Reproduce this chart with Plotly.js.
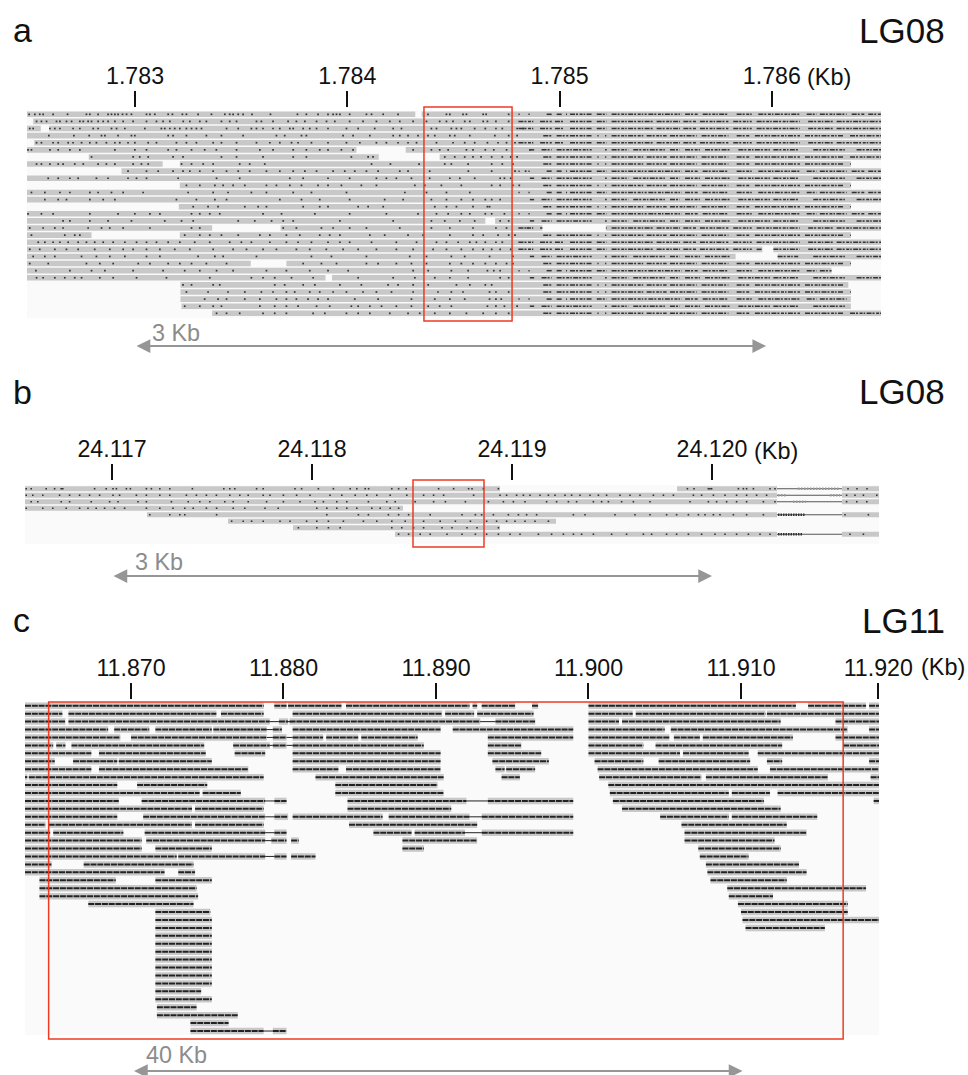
<!DOCTYPE html>
<html><head><meta charset="utf-8">
<script src="https://cdn.plot.ly/plotly-3.0.1.min.js"></script>
<style>html,body{margin:0;padding:0;background:#fff}</style></head>
<body><div id="chart" style="width:968px;height:1075px"></div>
<script>
// Panel a: LG08, positions are bp above aBase
const aBase = 1782000;
const aTickVals = [1783000,1784000,1785000,1786000];
const aTickText = ['1.783','1.784','1.785','1.786'];
const F = [[491,4514]];
const aReads = [[[491,2320],[2350,4514]],[[520,4514]],[[491,556],[595,4514]],F,[[525,4514]],[[491,2043],[2275,4514]],[[782,2148],[2435,4514]],[[491,1130],[1211,4372]],[[936,4514]],F,[[1211,4372]],F,F,[[1206,4372]],F,[[491,2650],[2696,4514]],[[491,1363],[1686,2919],[3218,4514]],[[491,795],[1211,4372]],F,[[491,3955],[4007,4514]],[[491,3829],[4027,4514]],[[491,1545],[1713,4372]],[[491,4281]],[[491,1897],[1928,4514]],[[1214,4360]],[[1214,4372]],[[1214,4372]],[[1219,4372]],[[1363,4514]]];
const aDots = [
[501,528,551,567,614,682,771,787,826,873,889,905,920,941,960,983,1054,1070,1093,1156,1176,1223,1242,1297,1360,1423,1446,1462,1486,1509,1551,1638,1765,1807,1862,1909,1933,1949,1965,2011,2090,2114,2169,2239,2380,2467,2483,2545,2561,2640,2654,2760],
[536,559,583,630,646,677,701,740,756,779,795,826,850,873,905,944,991,1054,1101,1132,1164,1227,1258,1305,1336,1407,1446,1478,1572,1595,1650,1721,1760,1800,1855,1902,1941,2011,2074,2137,2200,2247,2310,2373,2435,2467,2498,2553,2577,2640,2660,2700,2760],
[504,520,599,622,646,708,740,803,826,889,913,952,1046,1124,1140,1164,1187,1211,1242,1266,1289,1313,1431,1486,1548,1572,1603,1650,1682,1729,1745,1792,1823,1855,1909,1996,2051,2129,2216,2255,2396,2420,2490,2514,2537,2600,2650,2700,2730,2800,2830],
[594,712,784,842,858,920,983,999,1156,1179,1242,1336,1407,1509,1666,1705,1784,1807,1980,2027,2106,2216,2247,2286,2333,2380,2412,2483,2506,2577,2695,2760,2800],
[536,559,614,638,685,708,748,787,818,865,905,928,967,999,1062,1101,1195,1242,1289,1368,1407,1478,1572,1635,1682,1737,1768,1831,1909,1996,2059,2137,2184,2239,2286,2326,2420,2498,2553,2600,2660,2710,2750,2790],
[496,512,599,638,693,740,905,999,1054,1156,1195,1266,1328,1383,1478,1588,1650,1745,1807,1870,1909,1972,2027,2310,2396,2435,2475,2561,2592,2650,2690,2750,2860],
[795,991,1022,1062,1179,1226,1407,1478,1603,1745,1807,2019,2098,2121,2459,2506,2553,2592,2630,2680,2730,2770,2800],
[536,559,599,638,661,716,756,826,865,905,991,1030,1062,1219,1266,1321,1368,1493,1540,1611,2114,2203,2338,2459,2490,2569,2680,2730,2780],
[967,1054,1109,1179,1226,1258,1305,1368,1431,1486,1540,1619,1682,1745,1800,1855,1933,1988,2035,2090,2145,2247,2286,2388,2570,2680,2790,2840],
[591,638,693,732,818,873,967,1007,1054,1203,1384,1493,1729,1792,1909,2011,2137,2184,2231,2302,2388,2483,2530,2600,2720,2740,2770],
[1242,1305,1376,1415,1462,1517,1619,1666,1729,1784,1862,1909,1972,2066,2137,2318,2365,2443,2537,2680,2720,2780,2810],
[512,575,646,693,787,826,889,944,1038,1250,1368,1438,1548,1619,1745,1831,1996,2271,2373,2467,2577],
[575,638,677,787,850,905,1195,1289,1376,1431,1682,1784,1870,2011,2176,2263,2396,2467,2537,2592,2650,2680,2720],
[1274,1344,1391,1517,1580,1619,1792,1870,1909,2051,2098,2169,2412,2467,2514,2592,2660,2670],
[496,559,614,787,920,999,1070,1117,1266,1305,1352,1399,1603,1690,1847,2011,2184,2333,2420,2475,2537,2577,2650,2680,2740],
[661,693,787,873,983,1140,1219,1274,1486,1564,1643,1698,1745,1965,2216,2396,2459,2530,2600,2720,2760],
[504,567,622,661,779,842,881,944,1070,1266,1305,1698,1760,1878,1933,2011,2090,2247,2396,2483,2592,2700,2750,2850],
[512,669,716,740,1234,1305,1352,1407,1486,1588,1635,1713,1776,1870,1917,1965,2106,2176,2286,2357,2483,2592,2640,2710,2760,2790],
[544,575,614,646,685,732,771,810,850,897,952,1007,1054,1101,1156,1211,1281,1352,1446,1501,1548,1635,1713,1768,1831,1909,1965,2011,2114,2231,2326,2420,2467,2522,2577,2608,2650,2700,2730],
[504,551,622,677,732,810,881,944,991,1054,1117,1187,1258,1368,1462,1525,1603,1666,1760,1823,1901,1980,2051,2137,2231,2310,2404,2467,2537,2592,2640,2680,2720,2770],
[520,575,622,748,818,881,952,1054,1117,1297,1376,1415,1572,1831,1925,2090,2294,2373,2490,2553,2670,2780],
[504,591,771,834,897,1015,1070,1156,1211,1266,1336,1431,1580,1792,1878,1949,2090,2145,2231,2302,2373,2483,2537,2592,2650,2700,2750,2780],
[533,693,795,858,991,1132,1234,1305,1384,1462,1619,1713,1823,1909,2004,2310,2381,2490,2569,2660,2690,2720],
[536,567,622,669,716,748,834,897,1007,1148,1352,1548,1603,1658,1737,1839,2051,2216,2318,2412,2483,2569,2720,2760],
[1226,1266,1368,1399,1658,1705,1792,1847,1965,2066,2192,2239,2310,2381,2514,2577,2650,2680],
[1242,1344,1438,1517,1595,1650,1713,1752,1823,1870,1933,1996,2074,2137,2208,2310,2427,2490,2545,2670,2700,2760],
[1328,1391,1431,1517,1588,1666,1713,1760,1815,1862,1909,2035,2145,2302,2412,2483,2553,2670,2700,2725],
[1234,1305,1368,1407,1588,1658,1713,1768,1855,1917,2019,2051,2106,2161,2231,2302,2381,2435,2490,2660,2700,2740,2800],
[1384,1431,1493,1603,1658,1713,1839,1894,1996,2051,2106,2200,2286,2341,2412,2483,2561,2640,2700,2760]];
// Variant runs shared between groups of rows on the right of panel a
const aHapA = [[2806,2812],[2853,2859],[2939,2963],[2986,3010],[3030,3035],[3049,3151],[3175,3222],[3245,3410],[3418,3575],[3591,3653],[3674,3795],[3834,3905],[3936,4132],[4164,4211],[4226,4352],[4376,4438],[4454,4514]];
const aHapB = [[2923,2963],[2986,3041],[3049,3151],[3178,3184],[3214,3220],[3245,3394],[3410,3504],[3520,3646],[3669,3795],[3834,3897],[3920,4132],[4156,4336],[4368,4514]];
const aHapC = [[2806,2876],[2908,2963],[2978,3018],[3049,3151],[3175,3222],[3245,3441],[3457,3567],[3583,3646],[3661,3795],[3818,3905],[3928,4132],[4171,4289],[4305,4514]];
const aHapD = [[2860,2880],[2915,2963],[2986,3151],[3214,3222],[3245,3324],[3347,3496],[3520,3567],[3591,3661],[3685,3803],[3842,3991],[4007,4124],[4195,4344],[4399,4514]];
const aHaps = [aHapA,aHapC,aHapC,aHapB,aHapC,aHapD,aHapB,aHapB,aHapA,aHapD,aHapB,aHapA,aHapD,aHapB,aHapA,aHapD,aHapC,aHapB,aHapC,aHapC,aHapD,aHapB,aHapA,aHapD,aHapB,aHapB,aHapA,aHapD,aHapB];

// Panel b: LG08, positions are bp above bBase
const bBase = 24116000;
const bTickVals = [24117000,24118000,24119000,24120000];
const bTickText = ['24.117','24.118','24.119','24.120'];
const bReads = [[[565,2940],[3825,4325],[4650,4835]],[[565,4325],[4650,4835]],[[565,4325],[4650,4835]],[[565,2455]],[[1175,4325],[4650,4835]],[[1580,3220]],[[1905,2940]],[[2415,4325],[4650,4835]]];
const bSplice = [[[4325,4650]],[[4325,4650]],[[4325,4650]],[],[[4325,4650]],[],[],[[4325,4650]]];
const bDots = [
[571,596,671,713,746,754,913,971,1005,1022,1072,1092,1172,1197,1239,1289,1402,1559,1589,1614,1723,1756,1915,1948,2032,2107,2191,2224,2266,2283,2399,2433,2471,2633,2708,2783,2800,2857,2932,3877,3910,3982,3990,3998,4132,4157,4173,4207,4290,4315,4680,4725,4775],
[571,604,654,738,788,838,888,938,1005,1038,1122,1172,1239,1289,1372,1422,1472,1522,1589,1639,1681,1756,1790,1857,1923,1990,2090,2149,2216,2274,2324,2391,2474,2558,2608,2658,2808,2940,2973,3023,3057,3090,3140,3182,3215,3265,3298,3340,3390,3432,3473,3540,3590,3640,3707,3757,3807,3907,3948,4007,4065,4123,4173,4223,4273,4673,4715,4757,4824],
[596,629,746,788,896,988,1030,1130,1172,1297,1381,1439,1489,1564,1606,1681,1773,1857,1940,2015,2057,2124,2174,2282,2374,2416,2516,2608,2667,2767,2882,2957,3007,3065,3173,3223,3282,3323,3407,3448,3482,3548,3607,3690,3890,3982,4023,4073,4123,4173,4257,4315,4673,4724,4774],
[571,654,704,771,838,880,921,963,1013,1063,1172,1239,1305,1364,1406,1472,1523,1606,1664,1765,1831,2024,2074,2124,2174,2224,2299,2341,2391,2433],
[1189,1289,1339,1364,1523,2074,2232,2282,2382,2433,2483,2591,2750,2817,2848,2907,2982,3032,3073,3123,3307,3365,3515,3615,3690,3773,3823,3882,3932,3965,4007,4040,4107,4173,4257,4665,4782],
[1598,1656,1698,1756,1840,1890,1973,2024,2082,2157,2257,2324,2399,2466,2558,2641,2717,2792,2873,2923,2973,3015,3065,3115,3182],
[1932,2024,2082,2141,2399,2449,2508,2558,2650,2700,2775,2825,2932],
[2433,2483,2541,2591,2675,2750,2817,2873,2932,2990,3040,3132,3198,3257,3307,3348,3407,3498,3573,3657,3698,3773,3823,3882,3948,4015,4065,4123,4182,4240,4290,4690,4757]];
// Dense variant clusters near the intron in panel b, dark rows and pale rows
const bDarkRuns = [[],[],[],[],[[4330,4465]],[],[],[[4330,4455]]];
const bPaleRuns = [[[4430,4640]],[[4330,4370],[4590,4640]],[[4405,4470]],[],[],[],[],[]];

// Panel c: LG11, positions are kb above 11000
const cTickVals = [870,880,890,900,910,919];
const cTickText = ['11.870','11.880','11.890','11.900','11.910','11.920'];
const cL = 863.05, cR = 919.05;
const cReads = [
[[cL,878.7],[879.4,880.2],[880.3,883.8],[884.1,892.2],[892.4,892.7],[893,895.2],[896.3,896.7],[900,913.6],[914.4,918.2],[918.4,cR]],
[[cL,865.5],[865.9,875.6],[875.9,878.7],[880.6,890.4],[890.6,892.5],[892.7,896.4],[900,902.9],[903.1,911.6],[911.7,cR]],
[[cL,865.7],[865.9,879.1],[879.7,880.3],[880.4,892.9],[893.9,896.5],[900,902],[902.2,912.6],[916.2,cR]],
[[cL,868.5],[868.9,871.2],[871.6,875.3],[875.4,878.9],[879.3,879.9],[880.6,890.3],[891.1,899],[900,905],[905.4,917],[918.4,cR]],
[[cL,869.3],[870,878.9],[879.3,880.2],[880.6,882.6],[882.8,884.9],[885.1,888.8],[893.4,899],[900,905.3],[905.6,907.3],[907.5,913.4],[916.2,cR]],
[[cL,864.9],[865.1,865.7],[866.1,874.8],[876.7,879.1],[879.3,880.2],[880.6,889.2],[893.4,895.6],[900,903.6],[904.4,912.7],[916.7,cR]],
[[cL,867.4],[867.9,874.9],[876.8,878.8],[880.6,890.3],[893.4,896.9],[900,906],[906.2,910.5],[911.1,cR]],
[[cL,865],[866.2,869.1],[869.2,875.3],[880.6,890.3],[893.7,897.4],[900.4,903.6],[904.6,910.6],[911.7,912.7],[918.4,cR]],
[[cL,867.4],[867.9,877.7],[880.6,883.6],[884.1,890.3],[893.9,894.5],[894.6,896.5],[900.6,911.1],[911.9,cR]],
[[cL,863.2],[863.3,878.7],[882.1,890.5],[894.3,895.5],[900.7,907.4],[907.7,915.7],[918.5,cR]],
[[cL,869.1],[870.4,875],[883.4,890.1],[901.3,cR]],
[[cL,874.5],[874.7,877.2],[883.4,890.5],[901.4,909.2],[909.4,911.9],[912.4,cR]],
[[cL,869.2],[870.7,878.8],[879.4,880.2],[884.2,892],[893.4,899],[901.6,911.5],[918.7,cR]],
[[cL,874],[874.2,878.7],[884.2,891],[902.2,912.6]],
[[cL,869.1],[870.8,878.8],[879.4,880.3],[880.6,886.5],[886.9,892.2],[893,899],[904.7,909.2],[909.4,915]],
[[cL,864.4],[864.6,874],[874.2,878.7],[884.3,892.7],[906.1,913]],
[[cL,864.7],[864.9,869.5],[870.9,878.8],[879.4,880.2],[885.9,888.4],[888.6,891.9],[893,899],[906.3,914.3]],
[[cL,870.7],[871,878.8],[879.2,880.2],[880.5,881],[887.8,892.7],[906.3,912.2]],
[[cL,870.7],[871.6,875.3],[887.8,889.2],[907.2,912.6]],
[[cL,873],[873.1,878.8],[879.4,880.2],[880.5,882.1],[907.3,910.5]],
[[cL,864.8],[866.9,874.1],[907.7,913.8]],
[[cL,872.2],[873.1,874.2],[907.8,914.3]],
[[864,869],[871.6,875.3],[908,913]],
[[864,874.3],[909.1,918.2]],
[[864,874.4],[909.2,912.1]],
[[867.2,874.1],[909.8,917]],
[[871.6,875.2],[910,917]],
[[871.6,875.3],[910.1,cR]],
[[871.6,875.3],[910.3,915.5]],
[[871.6,875.3]],[[871.6,875.3]],[[871.6,875.3]],[[871.6,875.3]],[[871.6,875.3]],[[871.6,875.3]],[[871.6,875.3]],
[[871.6,874.6]],[[871.6,875.3]],[[871.7,874.3]],[[871.7,877]],[[873.9,876.4]],
[[873.9,878.7],[879.3,880.2]]];
const cSplice = [[],[],[[879.1,879.7],[880.2,880.6],[892.9,893.9]],[[878.9,879.3]],[[878.9,879.3],[880.2,880.6]],[[879.1,879.3],[880.2,880.6]],[],[],[],[],[],[],[[878.8,879.4],[892,893.4]],[],[[878.8,879.4],[892.2,893]],[],[[878.8,879.4],[891.9,893]],[[878.8,879.2]],[],[[878.8,879.4]],[],[],[],[],[],[],[],[],[],[],[],[],[],[],[],[],[],[],[],[],[],[[878.7,879.3]]];

const panelLabels = ['a','b','c'];
const chromLabels = ['LG08','LG08','LG11'];
const scaleLabels = ['3 Kb','3 Kb','40 Kb'];

function segs(rows, base, xa, ya, color, width, dash){
  const x=[],y=[];
  rows.forEach((r,i)=>r.forEach(s=>{x.push(s[0]+base,s[1]+base,null);y.push(i+1,i+1,null);}));
  return {type:'scatter',mode:'lines',x,y,xaxis:xa,yaxis:ya,hoverinfo:'skip',showlegend:false,
    line:{color,width,dash:dash||'solid'}};
}
function dots(rows, reads, base, xa, ya, size){
  const x=[],y=[];
  rows.forEach((r,i)=>r.forEach(v=>{
    if(reads[i].some(s=>v>=s[0]&&v<=s[1])){x.push(v+base);y.push(i+1);}
  }));
  return {type:'scatter',mode:'markers',x,y,xaxis:xa,yaxis:ya,hoverinfo:'skip',showlegend:false,
    marker:{symbol:'square',size,color:'#333',line:{width:0}}};
}
// keep each row's variant runs inside that row's reads
const aRuns = aHaps.map((h,i)=>{
  const out=[];
  h.forEach(run=>aReads[i].forEach(s=>{
    const a=Math.max(run[0],s[0]),b=Math.min(run[1],s[1]);
    if(b>a) out.push([a,b]);
  }));
  return out;
});

const data = [
  segs(aReads,aBase,'x','y','#c8c8c8',5.6),
  dots(aDots,aReads,aBase,'x','y',1.7),
  segs(aRuns,aBase,'x','y','#333',1.5,'5px,1px,2px,1.6px,3px,1px,1.5px,1.4px'),
  segs(bReads,bBase,'x2','y2','#c8c8c8',5),
  segs(bSplice,bBase,'x2','y2','#555',1.1),
  dots(bDots,bReads,bBase,'x2','y2',1.6),
  segs(bPaleRuns,bBase,'x2','y2','#9a9a9a',2.4,'1.5px,1.5px'),
  segs(bDarkRuns,bBase,'x2','y2','#333',2.4,'1.5px,1px'),
  segs(cReads,0,'x3','y3','#c8c8c8',6.5),
  segs(cSplice,0,'x3','y3','#333',1.1),
  segs(cReads,0,'x3','y3','#222',2,'6px,0.8px')
];

const W=968,H=1075;
const px=v=>v/W, py=v=>1-v/H;
function xax(dom,range,vals,text,tickTop){
  return {domain:[px(dom[0]),px(dom[1])],range,tickmode:'array',tickvals:vals,ticktext:text,
    anchor:'free',position:py(tickTop),side:'top',ticks:'outside',ticklen:16,tickwidth:2,tickcolor:'#111',
    ticklabelstandoff:-2,showline:false,showgrid:false,zeroline:false,fixedrange:true,
    tickfont:{family:'Liberation Sans, Arial, sans-serif',size:23.2,color:'#111'}};
}
function yax(dom,range,anchor){
  return {domain:[py(dom[1]),py(dom[0])],range,anchor,visible:false,fixedrange:true};
}
const txt=(t,x,y,xa,size,color)=>({text:t,xref:'paper',yref:'paper',x:px(x),y:py(y),xanchor:xa,yanchor:'middle',
  showarrow:false,font:{family:'Liberation Sans, Arial, sans-serif',size,color:color||'#111'}});
const arrow=(xa,x0,x1,yp)=>({text:'',xref:xa,yref:'paper',axref:xa,ayref:'paper',x:x1,ax:x0,y:py(yp),ay:py(yp),
  showarrow:true,arrowside:'end+start',arrowhead:2,startarrowhead:2,arrowsize:1.25,startarrowsize:1.25,arrowwidth:2.2,arrowcolor:'#969696'});
const box=(xa,x0,x1,y0,y1)=>({type:'rect',xref:xa,yref:'paper',x0,x1,y0:py(y0),y1:py(y1),
  line:{color:'#ee3b22',width:1.5},fillcolor:'rgba(0,0,0,0)',layer:'above'});

const layout = {
  width:W,height:H,margin:{l:0,r:0,t:0,b:0},autosize:false,paper_bgcolor:'#fff',plot_bgcolor:'#fafafa',showlegend:false,
  xaxis: xax([27,881],[1782491,1786514],aTickVals,aTickText,107),
  yaxis: yax([111,318],[29.66,0.535],'x'),
  xaxis2:xax([25,879],[24116565,24120835],bTickVals,bTickText,480),
  yaxis2:yax([485,544],[9.5,0.43],'x2'),
  xaxis3:xax([25,879],[cL,cR],cTickVals,cTickText,699),
  yaxis3:yax([702,1035],[42.5,0.53],'x3'),
  shapes:[
    box('x',1784361,1784776,107,321),
    box('x2',24118505,24118860,480,547),
    box('x3',864.6,916.7,702,1039)
  ],
  annotations:[
    txt(panelLabels[0],11,30,'left',34),txt(chromLabels[0],947,30,'right',35),
    txt(panelLabels[1],11,392,'left',34),txt(chromLabels[1],947,392,'right',35),
    txt(panelLabels[2],11,620,'left',34),txt(chromLabels[2],947,620,'right',35),
    txt('(Kb)',805,77,'left',23.4),txt('(Kb)',752,451,'left',23.4),txt('(Kb)',919,667,'left',23.4),
    txt(scaleLabels[0],150,333,'left',23.4,'#8c8c8c'),
    txt(scaleLabels[1],133,562,'left',23.4,'#8c8c8c'),
    txt(scaleLabels[2],144,1055,'left',23.4,'#8c8c8c'),
    arrow('x',1783000,1785973,346),
    arrow('x2',24117000,24120000,576),
    arrow('x3',870.1,910.1,1071)
  ]
};
Plotly.newPlot('chart',data,layout,{displayModeBar:false,staticPlot:true});
</script></body></html>
